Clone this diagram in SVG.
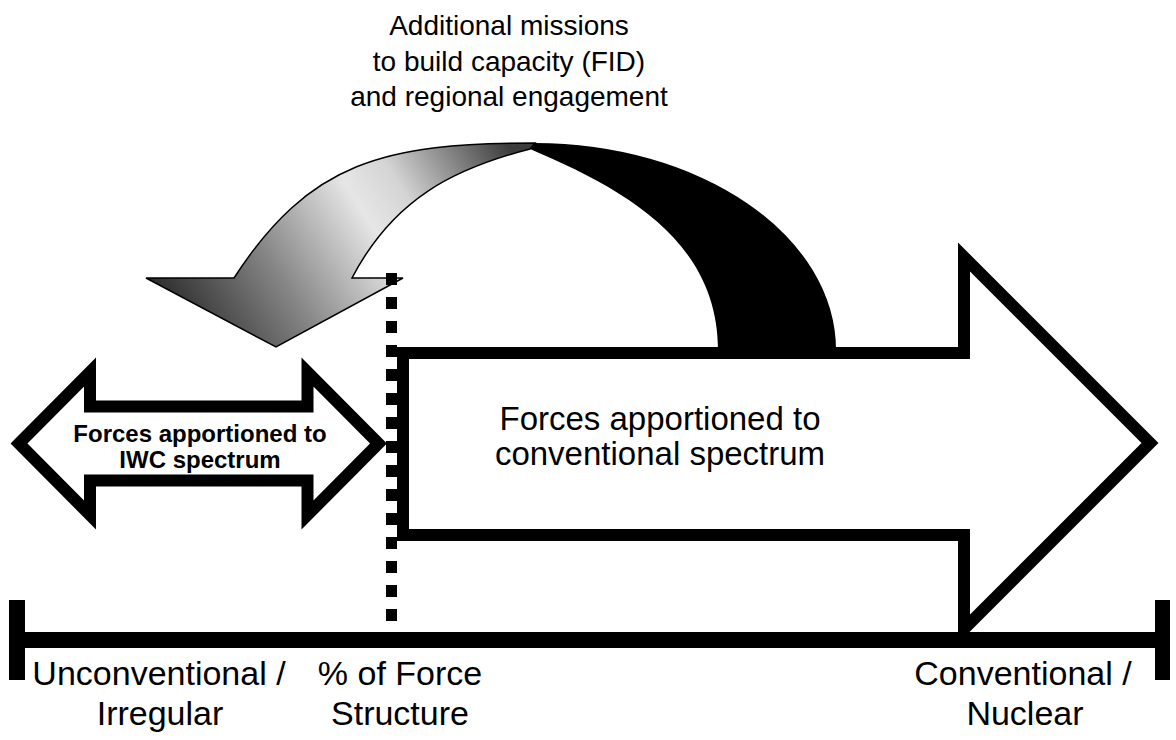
<svg xmlns="http://www.w3.org/2000/svg" width="1176" height="740" viewBox="0 0 1176 740">
  <defs>
    <style>
      .outline { fill: #ffffff; stroke: #000000; stroke-width: 12; stroke-linejoin: miter; stroke-miterlimit: 10; }
      .bar { fill: #000000; }
      .lbl { font-family: "Liberation Sans", Arial, sans-serif; fill: #000000; text-anchor: middle; }
      .big { font-size: 33px; }
      .axis-text { font-size: 34px; }
      .top { font-size: 28px; }
      .bold { font-size: 24px; font-weight: bold; }
      .divider { stroke: #000000; stroke-width: 11; stroke-dasharray: 12 12; fill: none; }
    </style>
    <!-- shading for the front face of the curved arrow -->
    <linearGradient id="frontShade" gradientUnits="userSpaceOnUse" x1="505" y1="140" x2="185" y2="340">
      <stop offset="0" stop-color="#3c3c3c"/>
      <stop offset="0.3" stop-color="#d4d4d4"/>
      <stop offset="0.42" stop-color="#e6e6e6"/>
      <stop offset="0.7" stop-color="#858585"/>
      <stop offset="1" stop-color="#2a2a2a"/>
    </linearGradient>
  </defs>

  <rect width="1176" height="740" fill="#ffffff"/>

  <!-- conventional spectrum block arrow -->
  <g id="conventional-arrow">
    <path class="outline" d="M403,353 L964,353 L964,257 L1150,443 L964,629 L964,535 L403,535 Z"/>
    <text class="lbl big" x="660" y="430">Forces apportioned to</text>
    <text class="lbl big" x="660" y="465">conventional spectrum</text>
  </g>

  <!-- IWC double-headed arrow -->
  <g id="iwc-arrow">
    <path class="outline" d="M19,443.5 L90,372 L90,406.5 L307.5,406.5 L307.5,372 L378.5,443.5 L307.5,515 L307.5,480.5 L90,480.5 L90,515 Z"/>
    <text class="lbl bold" x="200" y="442">Forces apportioned to</text>
    <text class="lbl bold" x="200" y="468">IWC spectrum</text>
  </g>

  <!-- spectrum axis -->
  <g id="axis">
    <rect class="bar" x="9" y="632" width="1161" height="16"/>
    <rect class="bar" x="9" y="600" width="16" height="80"/>
    <rect class="bar" x="1155" y="600" width="15" height="80"/>
  </g>

  <!-- curved arrow carrying forces back to the IWC side -->
  <g id="connectors">
    <path id="curve-back" fill="#000000" d="M535,143 A301,207 0 0 1 836,350 L718,350 C718,240 622,188 530,149 Z"/>
    <path id="curve-front" fill="url(#frontShade)" stroke="#000000" stroke-width="1.5" stroke-linejoin="miter"
          d="M234,278 L146,278 L276,347 L403,278 L352,278 C393,199.4 452.4,169 530,149 L535,143 C385,143 309.6,161.4 234,278 Z"/>
  </g>

  <!-- dotted divider at the force-structure split -->
  <g id="divider">
    <line class="divider" x1="391.5" y1="273" x2="391.5" y2="621"/>
  </g>

  <g id="mission-label">
    <text class="lbl top" x="509" y="35">Additional missions</text>
    <text class="lbl top" x="509" y="70.5">to build capacity (FID)</text>
    <text class="lbl top" x="509" y="106">and regional engagement</text>
  </g>

  <g id="axis-labels">
    <text class="lbl axis-text" x="159" y="685">Unconventional /</text>
    <text class="lbl axis-text" x="160" y="725">Irregular</text>
    <text class="lbl axis-text" x="400" y="685">% of Force</text>
    <text class="lbl axis-text" x="400" y="725">Structure</text>
    <text class="lbl axis-text" x="1023" y="685">Conventional /</text>
    <text class="lbl axis-text" x="1025" y="725">Nuclear</text>
  </g>
</svg>
